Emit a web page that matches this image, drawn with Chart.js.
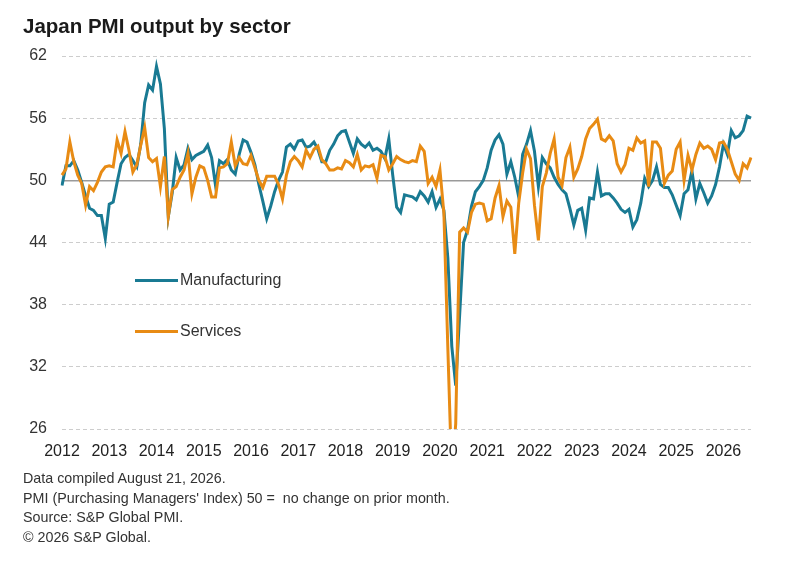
<!DOCTYPE html>
<html>
<head>
<meta charset="utf-8">
<script src="https://cdn.jsdelivr.net/npm/chart.js@4.4.1/dist/chart.umd.min.js"></script>
<style>
  body { margin: 0; background: #fff; font-family: "Liberation Sans", Arial, sans-serif; color: #333; }
  #wrap { position: relative; width: 805px; height: 564px; overflow: hidden; }
  #pmi { position: absolute; left: 0; top: 0; }
  h1 { position: absolute; left: 23px; top: 14px; margin: 0; font-size: 20.5px; line-height: 24px; font-weight: bold; color: #1a1a1a; }
  .key { position: absolute; left: 135px; height: 20px; display: flex; align-items: center; font-size: 16px; color: #333; }
  .key span { display: inline-block; width: 43px; height: 3px; margin-right: 2px; }
  #notes { position: absolute; left: 23px; top: 469px; font-size: 14.3px; line-height: 19.7px; color: #333; }
</style>
</head>
<body>
<div id="wrap">
  <canvas id="pmi" width="805" height="564"></canvas>
  <h1>Japan PMI output by sector</h1>
  <div class="key" style="top:270px"><span style="background:#197a93"></span>Manufacturing</div>
  <div class="key" style="top:321px"><span style="background:#e88b14"></span>Services</div>
  <div id="notes">
    Data compiled August 21, 2026.<br>
    PMI (Purchasing Managers' Index) 50 = &nbsp;no change on prior month.<br>
    Source: S&amp;P Global PMI.<br>
    © 2026 S&amp;P Global.
  </div>
</div>
<script>
// months Jan 2012 .. Aug 2026
const years = [2012, 2013, 2014, 2015, 2016, 2017, 2018, 2019, 2020, 2021, 2022, 2023, 2024, 2025, 2026]
const lastMonth = 8

const manufacturing = [
  49.5, 51.4, 51.4, 51.9, 51.0, 49.8, 48.5, 47.3, 47.1, 46.6, 46.6, 44.4, // 2012
  47.7, 47.9, 49.8, 51.6, 52.2, 52.5, 51.9, 51.3, 53.5, 57.5, 59.2, 58.7, // 2013
  61.0, 59.3, 55.0, 46.5, 48.8, 52.2, 51.0, 51.5, 53.1, 52.0, 52.4, 52.6, // 2014
  52.8, 53.4, 52.2, 49.5, 51.9, 51.6, 52.0, 51.0, 50.6, 52.5, 53.9, 53.7, // 2015
  52.7, 51.5, 49.6, 48.0, 46.3, 47.5, 48.9, 50.0, 50.8, 53.2, 53.5, 53.0, // 2016
  53.8, 53.9, 53.2, 53.3, 53.7, 53.0, 51.8, 51.8, 52.9, 53.5, 54.3, 54.7, // 2017
  54.8, 53.7, 52.6, 54.0, 53.5, 53.2, 53.6, 52.9, 53.1, 52.8, 52.1, 54.0, // 2018
  50.5, 47.4, 46.9, 48.6, 48.5, 48.4, 48.1, 48.9, 48.5, 47.9, 48.9, 47.4, // 2019
  48.2, 47.1, 42.5, 34.0, 30.2, 37.0, 44.0, 45.2, 47.5, 48.9, 49.4, 50.0, // 2020
  51.2, 52.9, 53.9, 54.4, 53.5, 50.6, 51.8, 50.3, 48.4, 52.5, 53.5, 54.8, // 2021
  52.8, 49.4, 52.2, 51.6, 51.2, 50.3, 49.6, 49.1, 48.7, 47.3, 45.7, 47.1, // 2022
  47.3, 45.2, 48.3, 48.2, 50.8, 48.5, 48.7, 48.7, 48.3, 47.8, 47.2, 46.9, // 2023
  47.2, 45.5, 46.2, 47.8, 50.2, 49.4, 50.0, 51.3, 49.6, 49.3, 49.3, 48.6, // 2024
  47.6, 46.6, 48.7, 49.1, 50.9, 48.2, 49.7, 48.8, 47.8, 48.5, 49.6, 51.3, // 2025
  53.5, 52.5, 54.8, 54.1, 54.3, 54.8, 56.2, 56.0                          // 2026
]

const services = [
  50.5, 51.1, 53.7, 51.8, 50.5, 49.7, 47.6, 49.4, 49.0, 49.8, 50.8, 51.3, // 2012
  51.4, 51.3, 53.9, 52.6, 54.7, 52.9, 50.8, 51.5, 53.4, 55.1, 52.2, 51.8, // 2013
  52.1, 49.4, 52.3, 46.5, 49.1, 49.4, 50.3, 51.0, 52.6, 48.7, 50.3, 51.4, // 2014
  51.2, 50.0, 48.4, 48.4, 51.2, 51.3, 51.6, 53.7, 51.4, 52.2, 51.6, 51.5, // 2015
  52.4, 51.2, 50.0, 49.3, 50.4, 50.4, 50.4, 49.6, 48.2, 50.5, 51.8, 52.3, // 2016
  51.9, 51.3, 52.9, 52.2, 53.0, 53.3, 52.0, 51.6, 51.0, 51.0, 51.2, 51.1, // 2017
  51.9, 51.7, 51.3, 52.5, 51.0, 51.4, 51.3, 51.5, 50.2, 52.4, 52.3, 51.0, // 2018
  51.6, 52.3, 52.0, 51.8, 51.7, 51.9, 51.8, 53.3, 52.8, 49.7, 50.3, 49.4, // 2019
  51.0, 46.8, 33.8, 21.5, 26.5, 45.0, 45.4, 45.0, 46.9, 47.7, 47.8, 47.7, // 2020
  46.1, 46.3, 48.3, 49.5, 46.5, 48.0, 47.4, 42.9, 47.8, 50.7, 53.0, 52.1, // 2021
  47.6, 44.2, 49.4, 50.7, 52.6, 54.0, 50.3, 49.5, 52.2, 53.2, 50.3, 51.1, // 2022
  52.3, 54.0, 55.0, 55.4, 55.9, 54.0, 53.8, 54.3, 53.8, 51.6, 50.8, 51.5, // 2023
  53.1, 52.9, 54.1, 53.6, 53.8, 49.4, 53.7, 53.7, 53.1, 49.7, 50.5, 50.9, // 2024
  53.0, 53.7, 50.0, 52.4, 51.0, 52.5, 53.6, 53.1, 53.3, 53.0, 52.0, 53.6, // 2025
  53.7, 53.0, 51.8, 50.6, 50.0, 51.6, 51.2, 52.2                          // 2026
]

const yTicks = { min: 26, max: 62, step: 6, neutral: 50 }

// category labels like 2012-01
let months = []
years.forEach(y => {
  for (let m = 1; m <= 12; m++) {
    if (y === years[years.length - 1] && m > lastMonth) break
    months.push(y + '-' + String(m).padStart(2, '0'))
  }
})

const font = { family: '"Liberation Sans", Arial, sans-serif', size: 16 }

new Chart(document.getElementById('pmi'), {
  type: 'line',
  data: {
    labels: months,
    datasets: [{
      label: 'Manufacturing',
      data: manufacturing,
      borderColor: '#197a93',
      borderWidth: 3,
      pointRadius: 0,
      tension: 0,
      order: 1
    }, {
      label: 'Services',
      data: services,
      borderColor: '#e88b14',
      borderWidth: 3,
      pointRadius: 0,
      tension: 0,
      order: 0
    }]
  },
  options: {
    responsive: false,
    animation: false,
    layout: { padding: { left: 0, right: 54, top: 56, bottom: 95 } },
    plugins: { legend: { display: false }, tooltip: { enabled: false } },
    scales: {
      x: {
        grid: { display: false },
        border: { display: false },
        ticks: {
          autoSkip: false,
          maxRotation: 0,
          minRotation: 0,
          padding: 5,
          color: '#222',
          font: font,
          callback: function (val) {
            const l = this.getLabelForValue(val)
            return l.endsWith('-01') ? l.slice(0, 4) : null
          }
        },
        afterFit: s => { s.height = 40 }
      },
      y: {
        min: yTicks.min,
        max: yTicks.max,
        ticks: { stepSize: yTicks.step, padding: 15, color: '#333', font: font },
        grid: {
          drawTicks: false,
          color: c => c.tick && c.tick.value === yTicks.neutral ? '#9a9a9a' : '#cdcdcd',
          lineWidth: c => c.tick && c.tick.value === yTicks.neutral ? 1.5 : 1
        },
        border: {
          display: false,
          dash: c => c.tick && c.tick.value === yTicks.neutral ? [] : [4, 3]
        },
        afterFit: s => { s.width = 62 }
      }
    }
  }
})
</script>
</body>
</html>
